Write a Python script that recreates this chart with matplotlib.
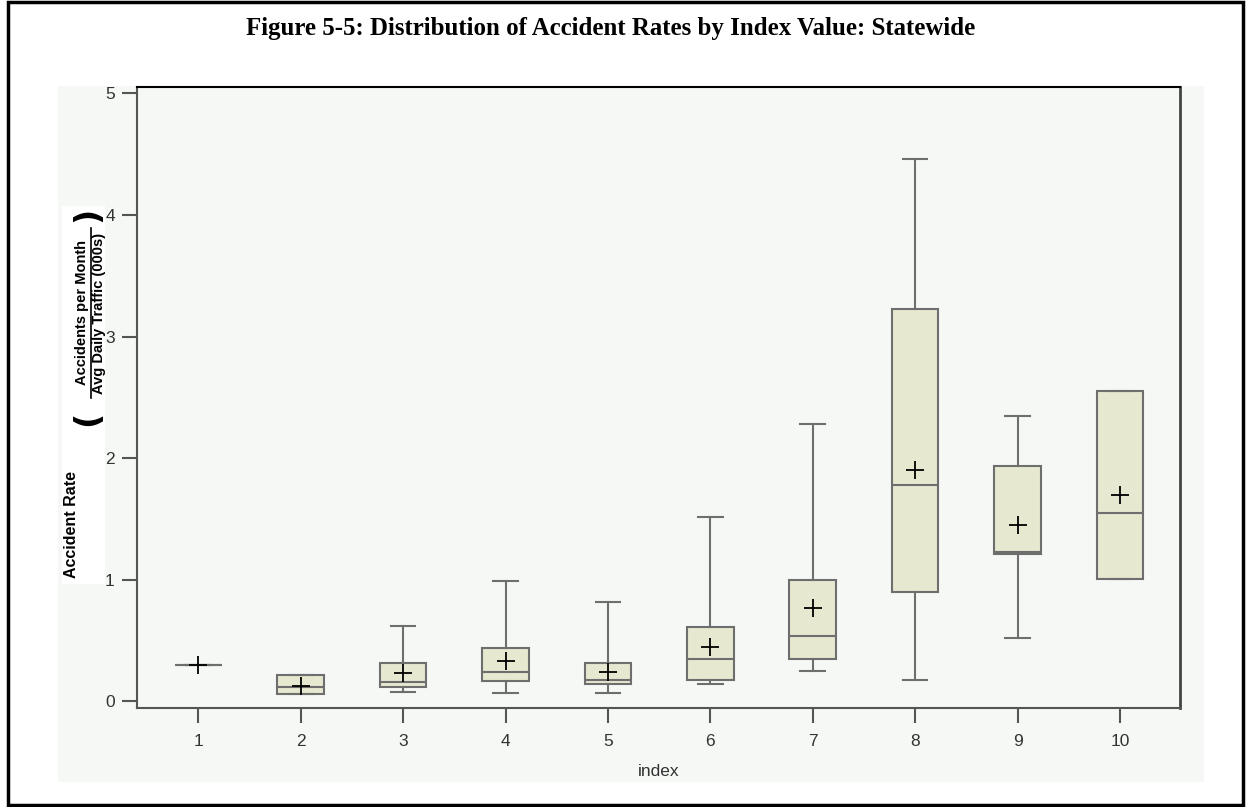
import matplotlib
matplotlib.use("Agg")
import matplotlib.pyplot as plt
from matplotlib.patches import Rectangle
from matplotlib.lines import Line2D

# accident rate summary per index value
index_vals = [1, 2, 3, 4, 5, 6, 7, 8, 9, 10]
lows    = [0.30, 0.06, 0.08, 0.07, 0.07, 0.14, 0.25, 0.18, 0.52, 1.01]
q1s     = [0.30, 0.06, 0.12, 0.17, 0.14, 0.18, 0.35, 0.90, 1.21, 1.01]
medians = [0.30, 0.12, 0.16, 0.24, 0.18, 0.35, 0.54, 1.78, 1.23, 1.55]
q3s     = [0.30, 0.22, 0.32, 0.44, 0.32, 0.61, 1.00, 3.23, 1.94, 2.55]
highs   = [0.30, 0.22, 0.62, 0.99, 0.82, 1.52, 2.28, 4.46, 2.35, 2.55]
means   = [0.30, 0.13, 0.23, 0.33, 0.24, 0.45, 0.77, 1.90, 1.45, 1.70]
y_ticks = [0, 1, 2, 3, 4, 5]

W, H = 1250, 807
BG = "#f5f8f5"
FILL = "#e6e8d0"
EDGE = "#6e6e6e"


def fx(px):
    return px / W


def fy(py):
    return 1 - py / H


fig = plt.figure(figsize=(12.5, 8.07), dpi=100)
fig.patch.set_facecolor("white")

# grey panel behind the plot
fig.add_artist(Rectangle((fx(58), fy(782)), fx(1204 - 58), (782 - 86) / H,
                         transform=fig.transFigure, facecolor=BG, edgecolor="none", zorder=0))
# outer frame
fig.add_artist(Rectangle((fx(8), 2 / H), fx(1243 - 8), (805 - 2) / H,
                         transform=fig.transFigure, facecolor="none", edgecolor="black",
                         linewidth=2.5, zorder=5))

ax = fig.add_axes([fx(137), fy(707.5), fx(1180 - 137), (707.5 - 86.7) / H])
ax.set_facecolor(BG)

stats = []
for i in range(len(index_vals)):
    stats.append(dict(whislo=lows[i], q1=q1s[i], med=medians[i], q3=q3s[i],
                      whishi=highs[i], mean=means[i], fliers=[]))

ax.bxp(stats, positions=index_vals, widths=0.455, capwidths=0.24,
       showmeans=True, patch_artist=True, showfliers=False,
       boxprops=dict(facecolor=FILL, edgecolor=EDGE, linewidth=1.5),
       medianprops=dict(color=EDGE, linewidth=1.5),
       whiskerprops=dict(color=EDGE, linewidth=1.5),
       capprops=dict(color=EDGE, linewidth=1.5),
       meanprops=dict(marker="+", markersize=13, markeredgecolor="black",
                      markeredgewidth=1.3, linestyle="none"))

ax.set_xlim(0.401, 10.586)
ax.set_ylim(-0.05, 5.055)
ax.set_xticks(index_vals)
ax.set_xticklabels([str(v) for v in index_vals])
ax.set_yticks(y_ticks)
ax.set_yticklabels([str(v) for v in y_ticks])

ax.tick_params(axis="both", direction="out", length=11, width=1.5, color="#555555",
               labelsize=12.5, labelcolor="#333333")
ax.tick_params(axis="x", pad=8)
ax.tick_params(axis="y", pad=5)
for lab in ax.get_xticklabels() + ax.get_yticklabels():
    lab.set_fontfamily("Liberation Sans")

ax.spines["top"].set_color("black")
ax.spines["top"].set_linewidth(1.5)
ax.spines["right"].set_color("#444444")
ax.spines["right"].set_linewidth(2)
ax.spines["left"].set_color("#555555")
ax.spines["left"].set_linewidth(1.5)
ax.spines["bottom"].set_color("#555555")
ax.spines["bottom"].set_linewidth(1.5)

ax.set_xlabel("index", fontfamily="Liberation Sans", fontsize=12.5, color="#333333", labelpad=11)

fig.text(fx(611), fy(29), "Figure 5-5: Distribution of Accident Rates by Index Value: Statewide",
         ha="center", va="center", fontsize=17.9, fontweight="bold", fontfamily="Liberation Serif")

# y label: "Accident Rate (Accidents per Month / Avg Daily Traffic (000s))"
fig.add_artist(Rectangle((fx(62), fy(584)), fx(105 - 62), (584 - 206) / H,
                         transform=fig.transFigure, facecolor="white", edgecolor="none", zorder=2))
lab_kw = dict(rotation=90, ha="center", va="center", fontfamily="Liberation Sans",
              fontweight="bold", zorder=3)
fig.text(fx(72), fy(524), "Accident Rate", fontsize=11.5, **lab_kw)
fig.text(fx(82), fy(313), "Accidents per Month", fontsize=10.5, **lab_kw)
fig.text(fx(99.5), fy(313), "Avg Daily Traffic (000s)", fontsize=10.5, **lab_kw)
fig.add_artist(Line2D([fx(90.5), fx(90.5)], [fy(228), fy(398)], transform=fig.transFigure,
                      color="black", linewidth=1.2, zorder=3))
paren_kw = dict(rotation=90, ha="center", va="center", fontfamily="DejaVu Sans",
                fontweight="bold", zorder=3)
fig.text(fx(88), fy(418), "(", fontsize=24, **paren_kw)
fig.text(fx(88), fy(214), ")", fontsize=24, **paren_kw)

fig.savefig("out.png", dpi=100, facecolor="white")
